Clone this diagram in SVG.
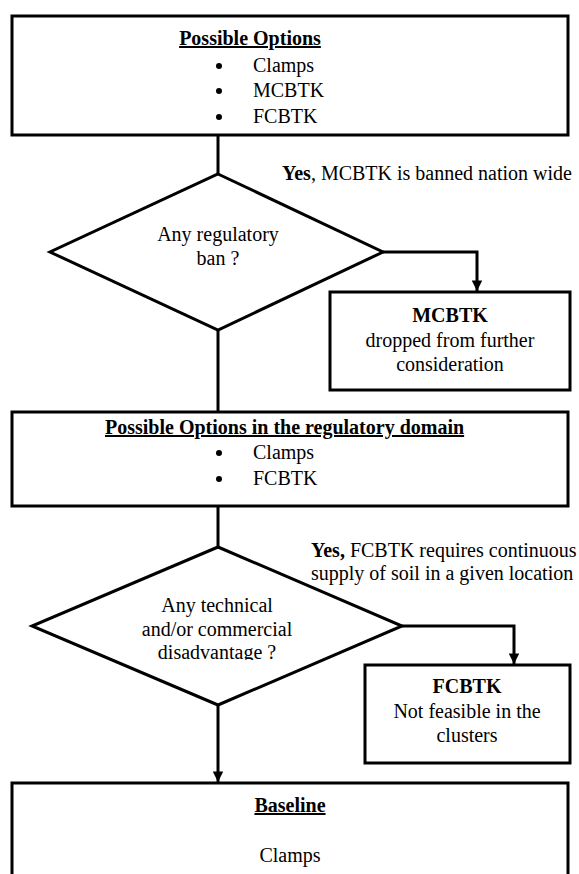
<svg xmlns="http://www.w3.org/2000/svg" width="579" height="874" viewBox="0 0 579 874">
<defs>
<style>
text{font-family:"Liberation Serif","Times New Roman",serif;font-size:20px;fill:#000}
.b{font-weight:bold}
.u{text-decoration:underline}
.c{text-anchor:middle}
.box{fill:#fff;stroke:#000;stroke-width:3}
.ln{fill:none;stroke:#000;stroke-width:3}
</style>
<marker id="ah" viewBox="0 0 10 10" refX="10" refY="5" markerWidth="4" markerHeight="3.5" orient="auto" markerUnits="strokeWidth">
<path d="M0,0 L10,5 L0,10 z" fill="#000"/>
</marker>
<clipPath id="cut"><rect x="0" y="0" width="579" height="660"/></clipPath>
</defs>
<rect width="579" height="874" fill="#fff"/>
<g id="connectors">
<path class="ln" d="M218,135 V174"/>
<path class="ln" d="M383,252 H477 V291" marker-end="url(#ah)"/>
<path class="ln" d="M218,330 V412"/>
<path class="ln" d="M218,506 V547"/>
<path class="ln" d="M402,626 H514 V664" marker-end="url(#ah)"/>
<path class="ln" d="M218,705 V782" marker-end="url(#ah)"/>
</g>
<g id="box1">
<rect class="box" x="12" y="16" width="556" height="119"/>
<text class="b u c" x="250" y="45">Possible Options</text>
<circle cx="219" cy="66" r="3"/><text x="253" y="72">Clamps</text>
<circle cx="219" cy="91" r="3"/><text x="253" y="97">MCBTK</text>
<circle cx="219" cy="117" r="3"/><text x="253" y="123">FCBTK</text>
</g>
<g id="label1">
<text x="282" y="180"><tspan class="b">Yes</tspan>, MCBTK is banned nation wide</text>
</g>
<g id="diamond1">
<polygon class="box" points="218,174 383,252 218,330 50,252"/>
<text class="c" x="218" y="241">Any regulatory</text>
<text class="c" x="218" y="265">ban ?</text>
</g>
<g id="box2">
<rect class="box" x="330" y="292" width="240" height="98"/>
<text class="b c" x="450" y="322">MCBTK</text>
<text class="c" x="450" y="347">dropped from further</text>
<text class="c" x="450" y="371">consideration</text>
</g>
<g id="box3">
<rect class="box" x="12" y="412" width="556" height="94"/>
<text class="b u" x="105" y="434">Possible Options in the regulatory domain</text>
<circle cx="219" cy="453" r="3"/><text x="253" y="459">Clamps</text>
<circle cx="219" cy="479" r="3"/><text x="253" y="485">FCBTK</text>
</g>
<g id="label2">
<text x="311" y="557"><tspan class="b">Yes,</tspan> FCBTK requires continuous</text>
<text x="311" y="580">supply of soil in a given location</text>
</g>
<g id="diamond2">
<polygon class="box" points="218,547 402,626 218,705 32,626"/>
<text class="c" x="217" y="612">Any technical</text>
<text class="c" x="217" y="636">and/or commercial</text>
<text class="c" x="217" y="659" clip-path="url(#cut)">disadvantage ?</text>
</g>
<g id="box4">
<rect class="box" x="365" y="665" width="205" height="98"/>
<text class="b c" x="467" y="693">FCBTK</text>
<text class="c" x="467" y="718">Not feasible in the</text>
<text class="c" x="467" y="742">clusters</text>
</g>
<g id="box5">
<rect class="box" x="12" y="783" width="556" height="110"/>
<text class="b u c" x="290" y="812">Baseline</text>
<text class="c" x="290" y="862">Clamps</text>
</g>
</svg>
